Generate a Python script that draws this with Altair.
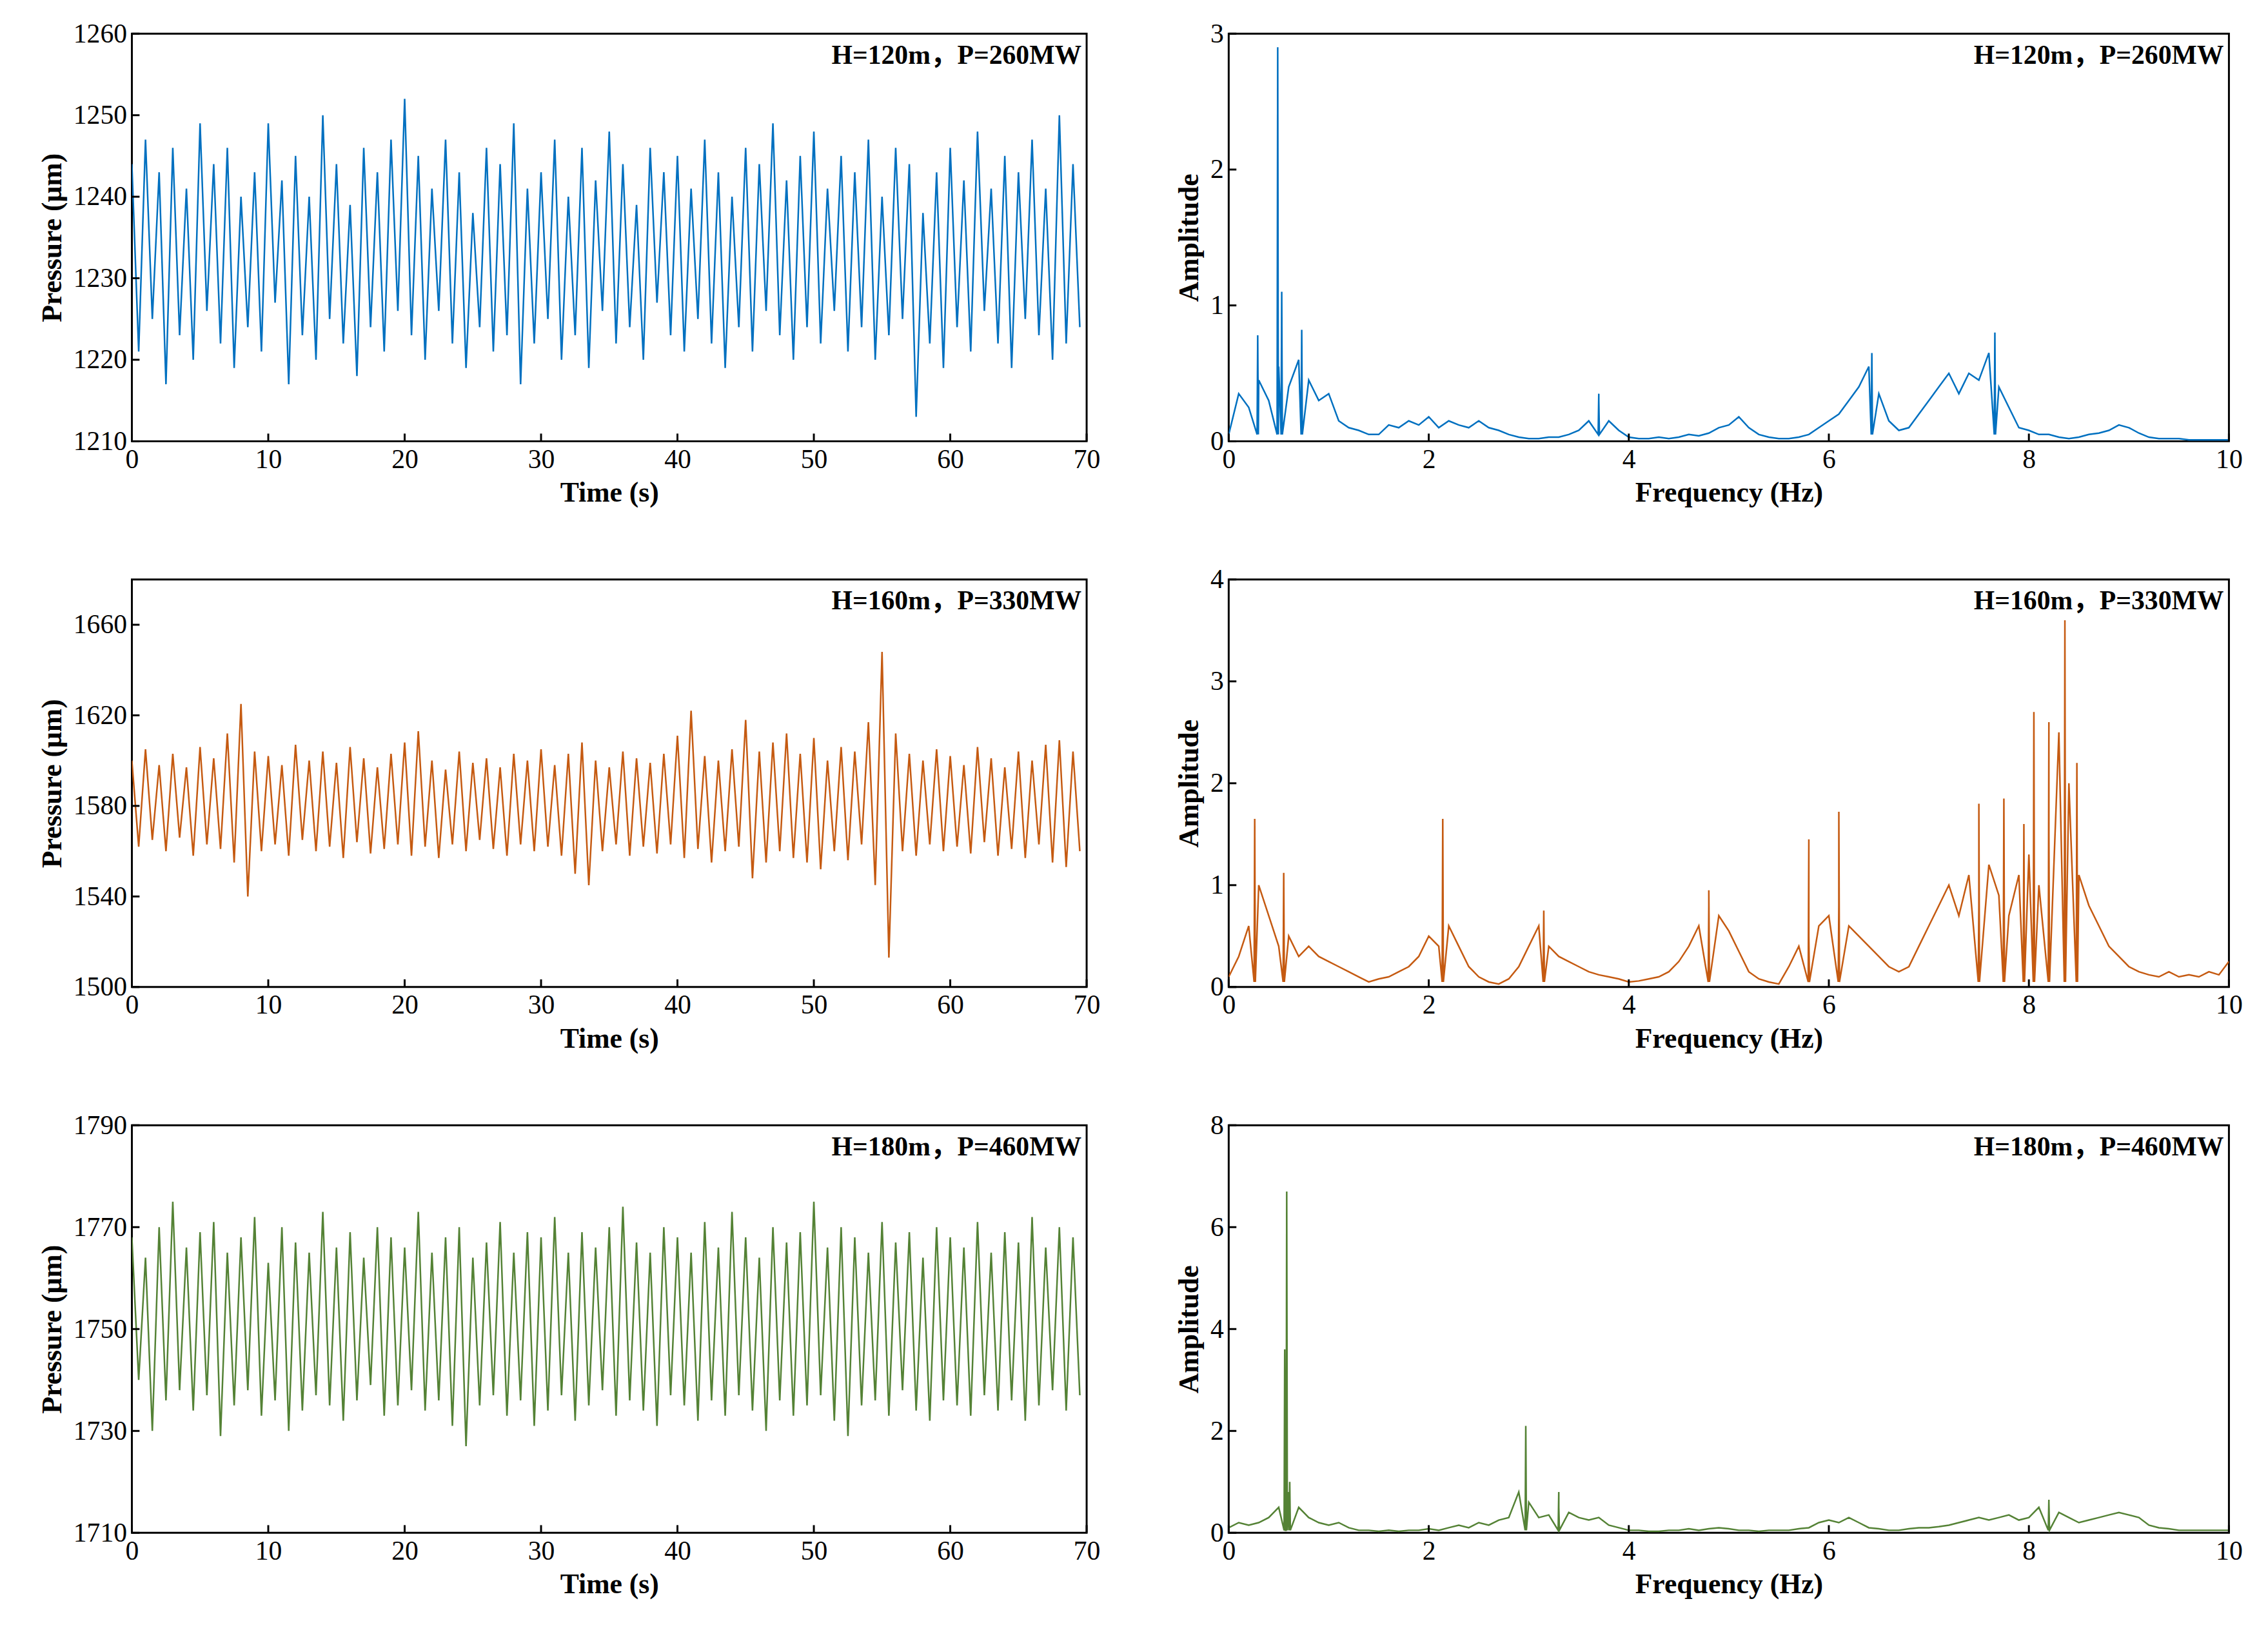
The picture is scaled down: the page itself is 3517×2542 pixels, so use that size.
import altair as alt
import pandas as pd

# ---- time series: upper / lower envelope per second ----
upper1 = [1244,1247,1243,1246,1241,1249,1244,1246,1240,1243,
          1249,1242,1245,1240,1250,1244,1239,1246,1243,1247,
          1252,1245,1241,1247,1243,1238,1246,1244,1249,1241,
          1243,1247,1240,1246,1242,1248,1244,1239,1246,1243,
          1245,1241,1247,1243,1240,1246,1244,1249,1242,1245,
          1248,1241,1245,1243,1247,1240,1246,1244,1238,1243,
          1246,1242,1248,1241,1245,1243,1247,1241,1250,1244]
lower1 = [1221,1225,1217,1223,1220,1226,1222,1219,1224,1221,
          1227,1217,1223,1220,1225,1222,1218,1224,1221,1226,
          1223,1220,1226,1222,1219,1224,1221,1223,1217,1222,
          1225,1220,1223,1219,1226,1222,1224,1220,1227,1223,
          1221,1225,1222,1219,1224,1221,1226,1223,1220,1224,
          1222,1226,1221,1224,1220,1223,1225,1213,1222,1219,
          1224,1221,1226,1222,1219,1225,1223,1220,1222,1224]
upper2 = [1600,1605,1598,1603,1597,1606,1601,1612,1625,1604,
          1602,1598,1607,1600,1604,1599,1606,1601,1597,1603,
          1608,1613,1600,1596,1604,1599,1601,1597,1603,1600,
          1605,1598,1603,1608,1600,1597,1604,1601,1599,1603,
          1611,1622,1602,1600,1605,1618,1604,1608,1612,1603,
          1610,1600,1606,1604,1617,1648,1612,1603,1600,1605,
          1602,1598,1606,1601,1597,1604,1600,1607,1609,1604]
lower2 = [1562,1565,1560,1566,1558,1563,1561,1555,1540,1560,
          1563,1558,1565,1560,1562,1557,1564,1559,1561,1563,
          1558,1562,1557,1563,1560,1565,1561,1558,1563,1560,
          1562,1558,1550,1545,1560,1563,1558,1562,1559,1563,
          1557,1561,1555,1560,1562,1548,1555,1560,1557,1555,
          1552,1560,1556,1563,1545,1513,1560,1558,1563,1560,
          1562,1559,1564,1558,1561,1557,1563,1555,1553,1560]
upper3 = [1768,1764,1770,1775,1766,1769,1771,1765,1768,1772,
          1763,1770,1767,1765,1773,1766,1769,1764,1770,1768,
          1766,1773,1765,1768,1770,1764,1767,1771,1765,1769,
          1768,1772,1765,1769,1766,1770,1774,1767,1765,1770,
          1768,1765,1771,1766,1773,1768,1764,1770,1767,1769,
          1775,1766,1770,1768,1765,1771,1767,1769,1764,1770,
          1768,1766,1771,1765,1769,1767,1772,1766,1770,1768]
lower3 = [1740,1730,1736,1738,1734,1737,1729,1735,1738,1733,
          1736,1730,1734,1737,1735,1732,1736,1739,1733,1735,
          1738,1734,1736,1731,1727,1735,1737,1733,1736,1731,
          1734,1737,1732,1735,1738,1733,1736,1734,1731,1737,
          1735,1732,1736,1733,1737,1734,1730,1736,1733,1735,
          1737,1732,1729,1735,1736,1733,1738,1734,1732,1736,
          1735,1733,1737,1734,1736,1732,1735,1738,1734,1737]

# ---- spectra: amplitude every 0.1 Hz plus sharp spikes ----
freq = [round(i * 0.1, 1) for i in range(101)]
amp1 = [0.05,0.35,0.25,0.45,0.3,0.55,0.4,0.6,0.45,0.3,
        0.35,0.15,0.1,0.08,0.05,0.05,0.12,0.1,0.15,0.12,
        0.18,0.1,0.15,0.12,0.1,0.15,0.1,0.08,0.05,0.03,
        0.02,0.02,0.03,0.03,0.05,0.08,0.15,0.3,0.15,0.08,
        0.03,0.02,0.02,0.03,0.02,0.03,0.05,0.04,0.06,0.1,
        0.12,0.18,0.1,0.05,0.03,0.02,0.02,0.03,0.05,0.1,
        0.15,0.2,0.3,0.4,0.55,0.35,0.15,0.08,0.1,0.2,
        0.3,0.4,0.5,0.35,0.5,0.45,0.65,0.4,0.25,0.1,
        0.08,0.05,0.05,0.03,0.02,0.03,0.05,0.06,0.08,0.12,
        0.1,0.06,0.03,0.02,0.02,0.02,0.01,0.01,0.01,0.01,0.01]
spike_f1 = [0.29, 0.49, 0.53, 0.73, 3.70, 6.43, 7.66]
spike_a1 = [0.78, 2.9, 1.1, 0.82, 0.35, 0.65, 0.8]
amp2 = [0.1,0.3,0.6,1.0,0.7,0.4,0.5,0.3,0.4,0.3,
        0.25,0.2,0.15,0.1,0.05,0.08,0.1,0.15,0.2,0.3,
        0.5,0.4,0.6,0.4,0.2,0.1,0.05,0.03,0.08,0.2,
        0.4,0.6,0.4,0.3,0.25,0.2,0.15,0.12,0.1,0.08,
        0.05,0.06,0.08,0.1,0.15,0.25,0.4,0.6,0.8,0.7,
        0.55,0.35,0.15,0.08,0.05,0.03,0.2,0.4,0.5,0.6,
        0.7,0.8,0.6,0.5,0.4,0.3,0.2,0.15,0.2,0.4,
        0.6,0.8,1.0,0.7,1.1,0.8,1.2,0.9,0.7,1.1,
        1.3,1.0,1.5,2.5,2.0,1.1,0.8,0.6,0.4,0.3,
        0.2,0.15,0.12,0.1,0.15,0.1,0.12,0.1,0.15,0.12,0.25]
spike_f2 = [0.26, 0.55, 2.14, 3.15, 4.8, 5.8, 6.1, 7.5, 7.75, 7.95, 8.05, 8.2, 8.36, 8.48]
spike_a2 = [1.65, 1.12, 1.65, 0.75, 0.95, 1.45, 1.72, 1.8, 1.85, 1.6, 2.7, 2.6, 3.6, 2.2]
amp3 = [0.1,0.2,0.15,0.2,0.3,0.5,0.8,0.5,0.3,0.2,
        0.15,0.2,0.1,0.05,0.05,0.03,0.05,0.03,0.05,0.05,
        0.08,0.05,0.1,0.15,0.1,0.2,0.15,0.25,0.3,0.8,
        0.6,0.3,0.35,0.5,0.4,0.3,0.25,0.3,0.15,0.1,
        0.05,0.05,0.03,0.03,0.05,0.05,0.08,0.05,0.08,0.1,
        0.08,0.05,0.05,0.03,0.05,0.05,0.05,0.08,0.1,0.2,
        0.25,0.2,0.3,0.2,0.1,0.08,0.05,0.05,0.08,0.1,
        0.1,0.12,0.15,0.2,0.25,0.3,0.25,0.3,0.35,0.25,
        0.3,0.5,0.6,0.4,0.3,0.2,0.25,0.3,0.35,0.4,
        0.35,0.3,0.15,0.1,0.08,0.05,0.05,0.05,0.05,0.05,0.05]
spike_f3 = [0.56, 0.58, 0.61, 2.97, 3.3, 8.2]
spike_a3 = [3.6, 6.7, 1.0, 2.1, 0.8, 0.65]

labels = ["H=120m，P=260MW", "H=160m，P=330MW", "H=180m，P=460MW"]
colors = ["#0070C0", "#C55A11", "#548235"]

FONT = "Liberation Serif, Noto Sans CJK SC"
TW, SW, PH = 1492, 1563, 637


def time_df(up, lo):
    rows = []
    for i, (u, l) in enumerate(zip(up, lo)):
        rows.append({"t": i, "v": u})
        rows.append({"t": i + 0.5, "v": l})
    return pd.DataFrame(rows)


def spec_df(a, sf, sa):
    rows = [{"f": f, "v": v} for f, v in zip(freq, a)]
    for f, v in zip(sf, sa):
        rows += [{"f": f - 0.006, "v": 0.05}, {"f": f, "v": v}, {"f": f + 0.006, "v": 0.05}]
    return pd.DataFrame(rows).sort_values("f")


def xscale(d):
    return alt.Scale(domain=d, nice=False, zero=False, padding=0)


def panel(df, xf, xdom, xvals, xtitle, ydom, yvals, ytitle, color, label, w):
    line = alt.Chart(df).mark_line(color=color, strokeWidth=2.5, clip=True).encode(
        x=alt.X(f"{xf}:Q", scale=xscale(xdom),
                axis=alt.Axis(values=xvals, title=xtitle, grid=False, ticks=False,
                              format="d", labelFlush=False)),
        y=alt.Y("v:Q", scale=xscale(ydom),
                axis=alt.Axis(values=yvals, title=ytitle, grid=False, ticks=False,
                              format="d", labelFlush=False)),
    )
    xt = alt.Chart(pd.DataFrame({xf: xvals})).mark_rule(color="black", strokeWidth=3).encode(
        x=alt.X(f"{xf}:Q", scale=xscale(xdom)), y=alt.value(PH), y2=alt.value(PH - 12))
    yt = alt.Chart(pd.DataFrame({"v": yvals})).mark_rule(color="black", strokeWidth=3).encode(
        y=alt.Y("v:Q", scale=xscale(ydom)), x=alt.value(0), x2=alt.value(12))
    txt = alt.Chart(pd.DataFrame({"s": [label]})).mark_text(
        align="right", baseline="top", font=FONT, fontSize=42, fontWeight="bold").encode(
        text="s:N", x=alt.value(w - 8), y=alt.value(14))
    return (line + xt + yt + txt).properties(width=w, height=PH)


rows = []
tdata = [(upper1, lower1, [1210, 1260], list(range(1210, 1261, 10))),
         (upper2, lower2, [1500, 1680], list(range(1500, 1661, 40))),
         (upper3, lower3, [1710, 1790], list(range(1710, 1791, 20)))]
sdata = [(amp1, spike_f1, spike_a1, [0, 3], [0, 1, 2, 3]),
         (amp2, spike_f2, spike_a2, [0, 4], [0, 1, 2, 3, 4]),
         (amp3, spike_f3, spike_a3, [0, 8], [0, 2, 4, 6, 8])]
for k in range(3):
    up, lo, yd, yv = tdata[k]
    a, sf, sa, syd, syv = sdata[k]
    left = panel(time_df(up, lo), "t", [0, 70], list(range(0, 71, 10)), "Time (s)",
                 yd, yv, "Pressure (μm)", colors[k], labels[k], TW)
    right = panel(spec_df(a, sf, sa), "f", [0, 10], list(range(0, 11, 2)), "Frequency (Hz)",
                  syd, syv, "Amplitude", colors[k], labels[k], SW)
    rows.append(alt.hconcat(left, right, spacing=114))

chart = alt.vconcat(*rows, spacing=88).properties(
    padding={"top": 12, "left": 50, "right": 30, "bottom": 5}
).configure_view(stroke="black", strokeWidth=3).configure_axis(
    labelFont=FONT, titleFont=FONT, labelFontSize=42, titleFontSize=44,
    titleFontWeight="bold", labelColor="black", titleColor="black",
    domain=False, labelPadding=8, titlePadding=10,
)

chart.save("out.html", embed_options={"renderer": "svg", "actions": False})
